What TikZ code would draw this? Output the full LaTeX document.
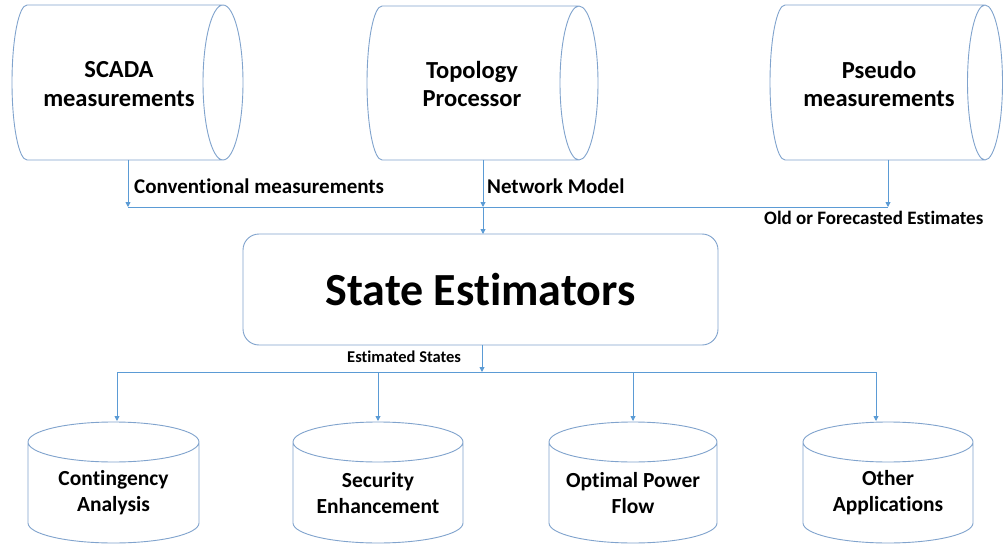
\documentclass[tikz,border=0pt]{standalone}
\usepackage{fontspec}
\setmainfont{Carlito}[Ligatures=CommonOff]
\usetikzlibrary{arrows.meta}
\definecolor{lnblue}{RGB}{91,155,213}
\definecolor{cylblue}{RGB}{128,163,205}
\begin{document}
\begin{tikzpicture}[x=1pt,y=-1pt,
  cylline/.style={draw=cylblue, line width=0.9pt},
  conn/.style={draw=lnblue, line width=0.9pt},
  arr/.style={conn, -{Triangle[length=5pt,width=5pt]}},
  cyltext/.style={font=\bfseries\fontsize{24.5}{28.5}\selectfont, align=center, inner sep=0pt},
  apptext/.style={font=\bfseries\fontsize{21.5}{26}\selectfont, align=center, inner sep=0pt},
  flowlbl/.style={font=\bfseries\fontsize{21}{24}\selectfont, inner sep=0pt, anchor=west},
  smalllbl/.style={font=\bfseries\fontsize{19}{22}\selectfont, inner sep=0pt, anchor=west},
  tinylbl/.style={font=\bfseries\fontsize{16.5}{20}\selectfont, inner sep=0pt, anchor=west}
]
\fill[white] (0,0) rectangle (1003,548);
\useasboundingbox (0,0) rectangle (1003,548);

% ---------- top horizontal cylinders ----------
% SCADA
\draw[cylline] (27,5) -- (223,5) (27,160) -- (223,160)
  (223,82.5) ellipse [x radius=20, y radius=77.5]
  (27,5) arc (270:90:15 and 77.5);
% Topology
\draw[cylline] (382,6) -- (579,6) (382,160) -- (579,160)
  (579,83) ellipse [x radius=19, y radius=77]
  (382,6) arc (270:90:15 and 77);
% Pseudo
\draw[cylline] (785,5) -- (985,5) (785,160) -- (985,160)
  (985,82.5) ellipse [x radius=17.5, y radius=77.5]
  (785,5) arc (270:90:15 and 77.5);

\node[cyltext] (scada) at (119,84) {SCADA\\measurements};
\node[cyltext] (topo) at (472,84) {Topology\\Processor};
\node[cyltext] (pseudo) at (879,84) {Pseudo\\measurements};

% ---------- state estimator ----------
\node[draw=cylblue, line width=0.9pt, rounded corners=16pt,
      minimum width=475pt, minimum height=111pt, inner sep=0pt,
      font=\bfseries\fontsize{46}{50}\selectfont] (se) at (480.5,289.5) {State Estimators};

% ---------- bottom vertical cylinders ----------
\newcommand\vcylinder[3]{% center x, half width, label name
  \draw[cylline] (#1,442) ellipse [x radius=#2, y radius=20]
    (#1-#2,442) -- (#1-#2,523) (#1+#2,442) -- (#1+#2,523)
    (#1-#2,523) arc (180:0:#2 and 20);
}
\vcylinder{113.5}{85.5}{ca}
\vcylinder{378}{85}{sec}
\vcylinder{633}{84}{opf}
\vcylinder{888}{85}{oth}

\node[apptext] (ca) at (113.5,493) {Contingency\\Analysis};
\node[apptext] (sec) at (378,493) {Security\\Enhancement};
\node[apptext] (opf) at (633,493) {Optimal Power\\Flow};
\node[apptext] (oth) at (888,493) {Other\\Applications};

% ---------- connector coordinates ----------
\coordinate (scadaout) at (128,160);
\coordinate (busL) at (128,207);
\coordinate (topoout) at (483,160);
\coordinate (busM) at (483,207);
\coordinate (pseudoout) at (888,160);
\coordinate (busR) at (888,207);
\coordinate (sein) at (483,234);
\coordinate (seout) at (482,345);
\coordinate (bus2M) at (482,372);
\coordinate (bus2A) at (117,372);
\coordinate (bus2B) at (378,372);
\coordinate (bus2C) at (633,372);
\coordinate (bus2D) at (876,372);
\coordinate (caIn) at (117,421);
\coordinate (secIn) at (378,421);
\coordinate (opfIn) at (633,421);
\coordinate (othIn) at (876,421);

% ---------- connectors ----------
\draw[conn] (busL) -- (busR);
\draw[arr] (scadaout) -- (busL);
\draw[arr] (topoout) -- (busM);
\draw[arr] (pseudoout) -- (busR);
\draw[arr] (busM) -- (sein);

\draw[arr] (seout) -- (bus2M);
\draw[conn] (bus2A) -- (bus2D);
\draw[arr] (bus2A) -- (caIn);
\draw[arr] (bus2B) -- (secIn);
\draw[arr] (bus2C) -- (opfIn);
\draw[arr] (bus2D) -- (othIn);

% ---------- labels ----------
\node[flowlbl] (convlbl) at (134,186) {Conventional measurements};
\node[flowlbl] (netlbl) at (487,186) {Network Model};
\node[smalllbl] (oldlbl) at (764,218) {Old or Forecasted Estimates};
\node[tinylbl] (estlbl) at (347,357) {Estimated States};
\end{tikzpicture}
\end{document}
